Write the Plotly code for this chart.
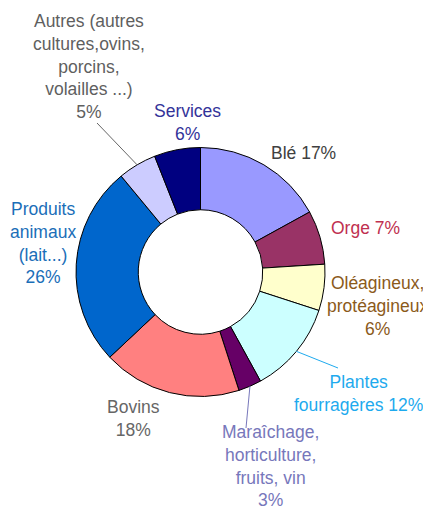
import numpy as np
import plotly.graph_objects as go

W, H = 431, 513
OFF = 8  # page body margin in the browser

labels = ['Blé', 'Orge', 'Oléagineux, protéagineux', 'Plantes fourragères',
          'Maraîchage, horticulture, fruits, vin', 'Bovins',
          'Produits animaux (lait...)',
          'Autres (autres cultures,ovins, porcins, volailles ...)', 'Services']
values = [17, 7, 6, 12, 3, 18, 26, 5, 6]
slice_colors = ['#9999FF', '#993366', '#FFFFCC', '#CCFFFF', '#660066',
                '#FF8080', '#0066CC', '#CCCCFF', '#000080']
label_texts = [
    'Blé 17%',
    'Orge 7%',
    'Oléagineux,<br>protéagineux<br>6%',
    'Plantes<br>fourragères 12%',
    'Maraîchage,<br>horticulture,<br>fruits, vin<br>3%',
    'Bovins<br>18%',
    'Produits<br>animaux<br>(lait...)<br>26%',
    'Autres (autres<br>cultures,ovins,<br>porcins,<br>volailles ...)<br>5%',
    'Services<br>6%',
]
label_colors = ['#404040', '#C0304F', '#8B5A1A', '#1EAAEE', '#7777BB',
                '#666666', '#1A6EB8', '#5F5F5F', '#333399']

# pixel layout of the ring (screen coordinates)
CX, CY, R = 200.5, 272.0, 124.5
label_px = [(303, 153), (365, 228), (377, 306), (358, 393), (270, 466),
            (133, 418), (43, 243), (89, 66), (187, 123)]
# leader lines: slice index -> label-side end point
leaders = {7: (97, 123), 3: (338, 368), 4: (246, 428)}
leader_colors = {7: '#666666', 3: '#1EAAEE', 4: '#7777BB'}


def px(x, y):
    return (x - OFF) / W, 1 - (y - OFF) / H


x0d, y1d = px(CX - R, CY - R)
x1d, y0d = px(CX + R, CY + R)

fig = go.Figure(go.Pie(
    labels=labels,
    values=values,
    hole=0.5,
    sort=False,
    direction='clockwise',
    rotation=0,
    marker=dict(colors=slice_colors, line=dict(color='black', width=1)),
    textinfo='none',
    hoverinfo='label+percent',
    domain=dict(x=[x0d, x1d], y=[y0d, y1d]),
    showlegend=False,
))

annotations = []
for text, col, (x, y) in zip(label_texts, label_colors, label_px):
    ax, ay = px(x, y)
    annotations.append(dict(
        text=text, x=ax, y=ay, xref='paper', yref='paper',
        xanchor='center', yanchor='middle',
        showarrow=False, align='center',
        font=dict(size=17.5, color=col),
    ))

total = sum(values)
starts = np.cumsum([0] + values[:-1])
shapes = []
for i, (ex, ey) in leaders.items():
    mid = (starts[i] + values[i] / 2) / total * 2 * np.pi
    sx = CX + R * np.sin(mid)
    sy = CY - R * np.cos(mid)
    lx0, ly0 = px(sx, sy)
    lx1, ly1 = px(ex, ey)
    shapes.append(dict(type='line', xref='paper', yref='paper',
                       x0=lx0, y0=ly0, x1=lx1, y1=ly1,
                       line=dict(color=leader_colors[i], width=1)))

fig.update_layout(
    width=W, height=H,
    margin=dict(l=0, r=0, t=0, b=0),
    paper_bgcolor='white',
    plot_bgcolor='white',
    font=dict(family='Liberation Sans, Arial, sans-serif'),
    annotations=annotations,
    shapes=shapes,
)

fig.write_html('out.html')
